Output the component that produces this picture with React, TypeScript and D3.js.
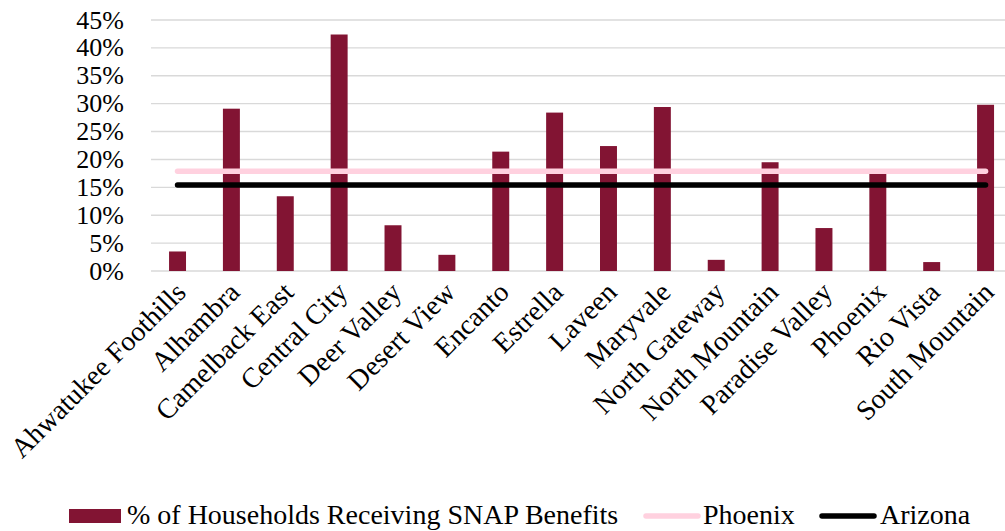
import React from "react";
import * as d3 from "d3";

const categories = [
  "Ahwatukee Foothills", "Alhambra", "Camelback East", "Central City", "Deer Valley",
  "Desert View", "Encanto", "Estrella", "Laveen", "Maryvale", "North Gateway",
  "North Mountain", "Paradise Valley", "Phoenix", "Rio Vista", "South Mountain",
];
const snapValues = [3.5, 29.1, 13.4, 42.4, 8.2, 2.9, 21.4, 28.4, 22.4, 29.4, 2.0, 19.5, 7.7, 17.9, 1.6, 29.8];
const phoenixValue = 17.9;
const arizonaValue = 15.4;
const yTicks = [0, 5, 10, 15, 20, 25, 30, 35, 40, 45];

const W = 1005;
const H = 531;
const FONT = "'Liberation Serif', 'Times New Roman', serif";

export default function App() {
  const x = d3.scaleBand<string>().domain(categories).range([150.6, 1012.5]).paddingInner(0).paddingOuter(0);
  const y = d3.scaleLinear().domain([0, 45]).range([271, 20]);
  const bw = x.bandwidth() * 0.315;
  const cx = (c: string) => (x(c) as number) + x.bandwidth() / 2;
  const x0 = cx(categories[0]);
  const x1 = cx(categories[categories.length - 1]);

  return (
    <svg width={W} height={H} style={{ position: "absolute", left: 0, top: 0, background: "#fff" }} fontFamily={FONT}>
      {yTicks.map((t) => (
        <g key={t}>
          <line x1={151} x2={W} y1={y(t)} y2={y(t)} stroke="#d9d9d9" strokeWidth={1.4} />
          <text x={124} y={y(t)} dy="0.33em" textAnchor="end" fontSize={26} fill="#000">{t}%</text>
        </g>
      ))}
      {categories.map((c, i) => (
        <rect key={c} x={cx(c) - bw / 2} y={y(snapValues[i])} width={bw} height={y(0) - y(snapValues[i])} fill="#821433" />
      ))}
      <line x1={x0} x2={x1} y1={y(phoenixValue)} y2={y(phoenixValue)} stroke="#ffd1df" strokeWidth={5.5} strokeLinecap="round" />
      <line x1={x0} x2={x1} y1={y(arizonaValue)} y2={y(arizonaValue)} stroke="#000" strokeWidth={5.5} strokeLinecap="round" />
      {categories.map((c) => (
        <text key={c} transform={`translate(${cx(c) + 3},${287}) rotate(-45)`} textAnchor="end" dy="0.35em" fontSize={28} fill="#000">{c}</text>
      ))}
      <rect x={69} y={509} width={52} height={14} fill="#821433" />
      <text x={127} y={524} fontSize={28} fill="#000">% of Households Receiving SNAP Benefits</text>
      <line x1={646} x2={698} y1={516} y2={516} stroke="#ffd1df" strokeWidth={5.5} strokeLinecap="round" />
      <text x={703} y={524} fontSize={28} fill="#000">Phoenix</text>
      <line x1={822} x2={874} y1={516} y2={516} stroke="#000" strokeWidth={5.5} strokeLinecap="round" />
      <text x={880} y={524} fontSize={28} fill="#000">Arizona</text>
    </svg>
  );
}
